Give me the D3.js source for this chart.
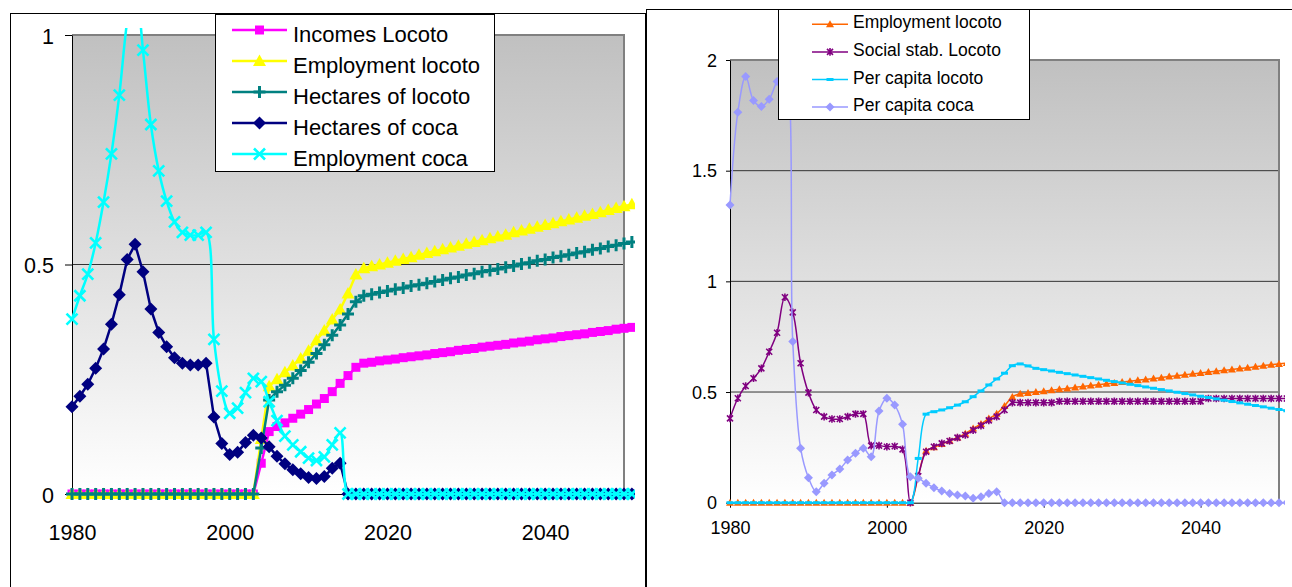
<!DOCTYPE html>
<html>
<head>
<meta charset="utf-8">
<script src="https://cdn.jsdelivr.net/npm/d3@7"></script>
<style>
  body { margin: 0; background: #fff; }
  svg { display: block; font-family: "Liberation Sans", Arial, sans-serif; }
</style>
</head>
<body>
<svg id="chart" width="1292" height="587"></svg>
<script>
// Yearly categories, 1980 to 2051
const years = d3.range(1980, 2052);

// ---- Left chart series ----
const incomesLocoto = [
  0,0,0,0,0,0,0,0,0,0,
  0,0,0,0,0,0,0,0,0,0,
  0,0,0,0,0.067,0.136,0.147,0.155,0.165,0.174,
  0.184,0.196,0.208,0.223,0.241,0.258,0.276,0.285,0.287,0.290,
  0.292,0.294,0.297,0.299,0.301,0.303,0.306,0.308,0.310,0.313,
  0.315,0.317,0.320,0.322,0.324,0.326,0.329,0.331,0.333,0.336,
  0.338,0.340,0.343,0.345,0.347,0.349,0.352,0.354,0.356,0.359,
  0.361,0.363
];
const employmentLocoto = [
  0,0,0,0,0,0,0,0,0,0,
  0,0,0,0,0,0,0,0,0,0,
  0,0,0,0,0.12,0.235,0.25,0.265,0.28,0.295,
  0.312,0.335,0.356,0.38,0.402,0.437,0.478,0.492,0.496,0.500,
  0.504,0.508,0.512,0.516,0.521,0.525,0.529,0.533,0.537,0.541,
  0.545,0.549,0.553,0.557,0.561,0.565,0.570,0.574,0.578,0.582,
  0.586,0.590,0.594,0.598,0.602,0.606,0.610,0.614,0.619,0.623,
  0.627,0.631
];
const hectaresLocoto = [
  0,0,0,0,0,0,0,0,0,0,
  0,0,0,0,0,0,0,0,0,0,
  0,0,0,0,0.1,0.205,0.223,0.237,0.252,0.269,
  0.287,0.306,0.325,0.346,0.368,0.392,0.419,0.432,0.435,0.439,
  0.442,0.446,0.449,0.453,0.456,0.459,0.463,0.466,0.470,0.473,
  0.477,0.480,0.484,0.487,0.490,0.494,0.497,0.501,0.504,0.508,
  0.511,0.515,0.518,0.521,0.525,0.528,0.532,0.535,0.539,0.542,
  0.546,0.549
];
const hectaresCoca = [
  0.190,0.213,0.239,0.274,0.316,0.370,0.434,0.511,0.544,0.484,
  0.403,0.352,0.321,0.297,0.285,0.281,0.281,0.285,0.168,0.110,
  0.086,0.091,0.112,0.128,0.122,0.103,0.082,0.066,0.053,0.044,
  0.036,0.034,0.038,0.056,0.067,0,0,0,0,0,
  0,0,0,0,0,0,0,0,0,0,
  0,0,0,0,0,0,0,0,0,0,
  0,0,0,0,0,0,0,0,0,0,
  0,0
];
const employmentCoca = [
  0.381,0.432,0.479,0.547,0.636,0.741,0.869,1.03,1.12,0.967,
  0.805,0.704,0.638,0.593,0.570,0.564,0.564,0.570,0.337,0.224,
  0.176,0.187,0.221,0.252,0.245,0.201,0.160,0.126,0.107,0.092,
  0.078,0.073,0.081,0.107,0.133,0,0,0,0,0,
  0,0,0,0,0,0,0,0,0,0,
  0,0,0,0,0,0,0,0,0,0,
  0,0,0,0,0,0,0,0,0,0,
  0,0
];

// ---- Right chart series ----
const socialStabLocoto = [
  0.381,0.472,0.527,0.562,0.607,0.682,0.768,0.928,0.860,0.630,
  0.497,0.419,0.389,0.378,0.378,0.389,0.401,0.401,0.258,0.258,
  0.253,0.255,0.241,0,0.12,0.23,0.253,0.268,0.279,0.294,
  0.306,0.328,0.348,0.372,0.389,0.419,0.452,0.452,0.452,0.452,
  0.452,0.452,0.458,0.458,0.458,0.458,0.458,0.458,0.458,0.458,
  0.458,0.458,0.458,0.458,0.458,0.458,0.458,0.458,0.458,0.458,
  0.458,0.471,0.471,0.471,0.471,0.471,0.471,0.471,0.471,0.471,
  0.471,0.471
];
const perCapitaLocoto = [
  0,0,0,0,0,0,0,0,0,0,
  0,0,0,0,0,0,0,0,0,0,
  0,0,0,0,0.2,0.4,0.411,0.419,0.429,0.441,
  0.456,0.479,0.505,0.532,0.559,0.585,0.619,0.627,0.618,0.607,
  0.601,0.595,0.589,0.583,0.577,0.571,0.565,0.559,0.553,0.547,
  0.541,0.535,0.529,0.523,0.517,0.511,0.505,0.499,0.493,0.487,
  0.481,0.475,0.469,0.463,0.457,0.451,0.445,0.439,0.433,0.427,
  0.421,0.415
];
const perCapitaCoca = [
  1.345,1.764,1.925,1.817,1.790,1.823,1.903,1.95,0.728,0.246,
  0.113,0.050,0.088,0.125,0.152,0.193,0.223,0.246,0.208,0.414,
  0.472,0.441,0.354,0.117,0.110,0.088,0.068,0.053,0.042,0.035,
  0.030,0.020,0.027,0.042,0.050,0,0,0,0,0,
  0,0,0,0,0,0,0,0,0,0,
  0,0,0,0,0,0,0,0,0,0,
  0,0,0,0,0,0,0,0,0,0,
  0,0
];

// Axis tick labels
const xTickYears = [1980, 2000, 2020, 2040];
const leftYTicks = [0, 0.5, 1];
const rightYTicks = [0, 0.5, 1, 1.5, 2];

const svg = d3.select("#chart");
const defs = svg.append("defs");

const grad = defs.append("linearGradient").attr("id", "plotFill")
  .attr("x1", 0).attr("y1", 0).attr("x2", 0).attr("y2", 1);
grad.append("stop").attr("offset", "0%").attr("stop-color", "#c0c0c0");
grad.append("stop").attr("offset", "100%").attr("stop-color", "#ffffff");

// Marker shapes
const markerPaths = {
  squareL:   { d: "M-4.5,-4.5h9v9h-9Z", fill: true },
  triangleL: { d: "M0,-6.5L6.5,5L-6.5,5Z", fill: true },
  plusL:     { d: "M-6,0H6M0,-6V6", fill: false, w: 3 },
  diamondL:  { d: "M0,-6.5L6.5,0L0,6.5L-6.5,0Z", fill: true },
  crossL:    { d: "M-5.5,-5.5L5.5,5.5M-5.5,5.5L5.5,-5.5", fill: false, w: 2.6 },
  triangleR: { d: "M0,-4L4,3L-4,3Z", fill: true },
  starR:     { d: "M-3,-3L3,3M-3,3L3,-3M0,-3.8V3.8", fill: false, w: 1.6 },
  dashR:     { d: "M-3.5,-1.5h7v3h-7Z", fill: true },
  diamondR:  { d: "M0,-4.5L4.5,0L0,4.5L-4.5,0Z", fill: true }
};

function drawMarker(sel, kind, color) {
  const m = markerPaths[kind];
  sel.attr("d", m.d)
    .attr("fill", m.fill ? color : "none")
    .attr("stroke", m.fill ? "none" : color)
    .attr("stroke-width", m.fill ? 0 : m.w);
}

function drawPanel(cfg) {
  const g = svg.append("g");
  const x = d3.scaleLinear().domain([1980, 2050]).range([cfg.left, cfg.right]);
  const y = d3.scaleLinear().domain([0, cfg.ymax]).range([cfg.bottom, cfg.top]);

  // outer frame
  g.append("rect")
    .attr("x", cfg.frame[0]).attr("y", cfg.frame[1])
    .attr("width", cfg.frame[2]).attr("height", cfg.frame[3])
    .attr("fill", "#fff").attr("stroke", "#000").attr("stroke-width", 1);

  // plot area
  g.append("rect")
    .attr("x", cfg.left).attr("y", cfg.top)
    .attr("width", cfg.right - cfg.left).attr("height", cfg.bottom - cfg.top)
    .attr("fill", "url(#plotFill)");

  // gridlines
  g.append("g").selectAll("line")
    .data(cfg.yTicks.filter(v => v > 0 && v < cfg.ymax))
    .join("line")
    .attr("x1", cfg.left).attr("x2", cfg.right)
    .attr("y1", d => y(d)).attr("y2", d => y(d))
    .attr("stroke", "#333").attr("stroke-width", 1);

  // plot-area border (top and right)
  g.append("path")
    .attr("d", `M${cfg.left},${cfg.top}H${cfg.right}V${cfg.bottom}`)
    .attr("fill", "none").attr("stroke", "#808080").attr("stroke-width", 2);

  // y axis
  const yAxis = g.append("g").attr("transform", `translate(${cfg.left},0)`)
    .call(d3.axisLeft(y).tickValues(cfg.yTicks).tickSize(cfg.yTickLen).tickSizeOuter(0)
      .tickFormat(d3.format("")));
  yAxis.select(".domain").attr("stroke", "#000");
  yAxis.selectAll(".tick line").attr("stroke", "#000");
  yAxis.selectAll(".tick text")
    .attr("x", cfg.yLabelX - cfg.left).attr("dy", null).attr("y", cfg.yLabelDy)
    .attr("fill", "#000").attr("font-size", cfg.axisFont)
    .attr("font-family", "Liberation Sans, Arial, sans-serif");

  // x axis
  const xAxis = g.append("g").attr("transform", `translate(0,${cfg.bottom})`)
    .call(d3.axisBottom(x).tickValues(xTickYears).tickSize(5).tickSizeOuter(0)
      .tickFormat(d3.format("d")));
  xAxis.select(".domain").attr("stroke", "#000");
  xAxis.selectAll(".tick line").attr("stroke", "#000");
  xAxis.selectAll(".tick text")
    .attr("y", cfg.xLabelBaseline - cfg.bottom).attr("dy", null)
    .attr("fill", "#000").attr("font-size", cfg.axisFont)
    .attr("font-family", "Liberation Sans, Arial, sans-serif");

  // series (clipped)
  const clipId = "clip" + cfg.id;
  defs.append("clipPath").attr("id", clipId).append("rect")
    .attr("x", cfg.clip[0]).attr("y", cfg.clip[1])
    .attr("width", cfg.clip[2]).attr("height", cfg.clip[3]);
  const sg = g.append("g").attr("clip-path", `url(#${clipId})`);

  cfg.series.forEach(s => {
    const pts = years.map((yr, i) => [yr, s.values[i]]);
    const line = d3.line()
      .x(d => x(d[0])).y(d => y(d[1]))
      .curve(s.smooth ? d3.curveCatmullRom.alpha(0.5) : d3.curveLinear);
    sg.append("path").datum(pts)
      .attr("d", line)
      .attr("fill", "none").attr("stroke", s.color)
      .attr("stroke-width", cfg.lineWidth).attr("stroke-linejoin", "round");
    sg.append("g").selectAll("path").data(pts).join("path")
      .attr("transform", d => `translate(${x(d[0])},${y(d[1])})`)
      .call(drawMarker, s.marker, s.color);
  });

  // legend
  const L = cfg.legend;
  const lg = g.append("g");
  lg.append("rect")
    .attr("x", L.box[0]).attr("y", L.box[1]).attr("width", L.box[2]).attr("height", L.box[3])
    .attr("fill", "#fff").attr("stroke", "#000").attr("stroke-width", 1);
  cfg.series.forEach((s, i) => {
    const base = L.firstBaseline + i * L.step;
    const ly = base - L.lineOffset;
    lg.append("line")
      .attr("x1", L.lineX[0]).attr("x2", L.lineX[1]).attr("y1", ly).attr("y2", ly)
      .attr("stroke", s.color).attr("stroke-width", cfg.lineWidth);
    lg.append("path")
      .attr("transform", `translate(${(L.lineX[0] + L.lineX[1]) / 2},${ly})`)
      .call(drawMarker, s.marker, s.color);
    lg.append("text")
      .attr("x", L.textX).attr("y", base)
      .attr("font-size", L.font).attr("fill", "#000")
      .text(s.name);
  });
}

drawPanel({
  id: "L",
  frame: [10.5, 13.5, 635, 620],
  left: 72, right: 624, top: 35, bottom: 494, ymax: 1,
  yTicks: leftYTicks, yTickLen: 7, yLabelX: 54, yLabelDy: 8,
  xLabelBaseline: 540, axisFont: "21.5px",
  clip: [60, 28, 575, 480],
  lineWidth: 2.5,
  series: [
    { name: "Incomes Locoto",     values: incomesLocoto,    color: "#ff00ff", marker: "squareL" },
    { name: "Employment locoto",  values: employmentLocoto, color: "#ffff00", marker: "triangleL" },
    { name: "Hectares of locoto", values: hectaresLocoto,   color: "#008080", marker: "plusL" },
    { name: "Hectares of coca",   values: hectaresCoca,     color: "#000080", marker: "diamondL" },
    { name: "Employment coca",    values: employmentCoca,   color: "#00ffff", marker: "crossL", smooth: true }
  ],
  legend: {
    box: [215.5, 14.5, 279, 157],
    firstBaseline: 42, step: 31, lineOffset: 12,
    lineX: [232, 287], textX: 293, font: "22px"
  }
});

drawPanel({
  id: "R",
  frame: [646.5, 9.5, 700, 620],
  left: 730, right: 1279, top: 60, bottom: 502.7, ymax: 2,
  yTicks: rightYTicks, yTickLen: 4, yLabelX: 717, yLabelDy: 6,
  xLabelBaseline: 534, axisFont: "18px",
  clip: [720, 40, 565, 475],
  lineWidth: 1.5,
  series: [
    { name: "Employment locoto",   values: employmentLocoto, color: "#ff6600", marker: "triangleR", smooth: true },
    { name: "Social stab. Locoto", values: socialStabLocoto, color: "#800080", marker: "starR", smooth: true },
    { name: "Per capita locoto",   values: perCapitaLocoto,  color: "#00ccff", marker: "dashR", smooth: true },
    { name: "Per capita coca",     values: perCapitaCoca,    color: "#9999ff", marker: "diamondR", smooth: true }
  ],
  legend: {
    box: [778.5, 9.5, 251, 110],
    firstBaseline: 28.3, step: 27.6, lineOffset: 4,
    lineX: [812, 848], textX: 853, font: "17.5px"
  }
});
</script>
</body>
</html>
